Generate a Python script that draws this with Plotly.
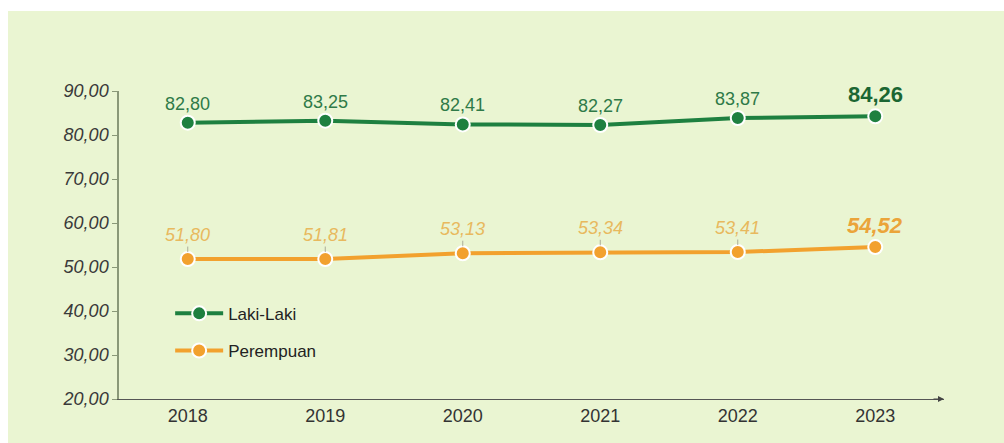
import plotly.graph_objects as go

years = [2018, 2019, 2020, 2021, 2022, 2023]
laki = [82.80, 83.25, 82.41, 82.27, 83.87, 84.26]
perempuan = [51.80, 51.81, 53.13, 53.34, 53.41, 54.52]
laki_labels = ["82,80", "83,25", "82,41", "82,27", "83,87", "84,26"]
perempuan_labels = ["51,80", "51,81", "53,13", "53,34", "53,41", "54,52"]
ytick_vals = [20, 30, 40, 50, 60, 70, 80, 90]
ytick_text = ["20,00", "30,00", "40,00", "50,00", "60,00", "70,00", "80,00", "90,00"]
series_names = ["Laki-Laki", "Perempuan"]

GREEN = "#1E8040"
ORANGE = "#F2A12E"
BG = "#EAF5D2"
FONT = "Liberation Sans, Arial, sans-serif"

fig = go.Figure()
fig.add_trace(go.Scatter(
    x=years, y=laki, name=series_names[0], mode="lines+markers",
    line=dict(color=GREEN, width=4),
    marker=dict(size=14, color=GREEN, line=dict(color="white", width=2)),
    legendgroup="a",
))
fig.add_trace(go.Scatter(
    x=years, y=perempuan, name=series_names[1], mode="lines+markers",
    line=dict(color=ORANGE, width=4),
    marker=dict(size=14, color=ORANGE, line=dict(color="white", width=2)),
    legendgroup="b",
))

annotations = []
n = len(years)
for i, (x, y, t) in enumerate(zip(years, laki, laki_labels)):
    last = i == n - 1
    annotations.append(dict(
        x=x, y=y, text=t, showarrow=False, yshift=22 if last else 19,
        font=dict(family=FONT, size=22 if last else 18,
                  color="#1B6632" if last else "#2F7A48",
                  weight="bold" if last else "normal"),
    ))
for i, (x, y, t) in enumerate(zip(years, perempuan, perempuan_labels)):
    last = i == n - 1
    if last:
        annotations.append(dict(
            x=x, y=y, text=t, showarrow=False, yshift=22,
            font=dict(family=FONT, size=22, color="#EBA43A",
                      weight="bold", style="italic"),
        ))
    else:
        annotations.append(dict(
            x=x, y=y, text=t, showarrow=True, ax=0, ay=-24,
            arrowhead=0, arrowwidth=0.8, arrowcolor="#9A9A8A", standoff=7,
            font=dict(family=FONT, size=18, color="#E8B95E", style="italic"),
        ))
# x-axis arrow head
annotations.append(dict(
    x=2023.5, y=20, xref="x", yref="y", text="", showarrow=True,
    ax=-12, ay=0, arrowhead=2, arrowsize=1, arrowwidth=1.2, arrowcolor="#444444",
))

fig.update_layout(
    width=1004, height=443,
    margin=dict(l=119, r=60, t=91, b=44),
    paper_bgcolor="white",
    plot_bgcolor="rgba(0,0,0,0)",
    font=dict(family=FONT),
    showlegend=True,
    legend=dict(
        x=0.062, y=0.335, xanchor="left", yanchor="top",
        bgcolor="rgba(0,0,0,0)", traceorder="grouped", tracegroupgap=12,
        itemwidth=48,
        font=dict(family=FONT, size=17, color="#222222"),
    ),
    annotations=annotations,
    shapes=[dict(
        type="rect", xref="paper", yref="paper",
        x0=(8 - 119) / 825, x1=(1004 - 119) / 825,
        y0=(399 - 443) / 308, y1=(399 - 11) / 308,
        fillcolor=BG, line=dict(width=0), layer="below",
    )],
    xaxis=dict(
        range=[2017.5, 2023.5], tickvals=years, ticktext=[str(y) for y in years],
        showgrid=False, zeroline=False, showline=True, linecolor="#555555",
        linewidth=1.2, ticks="",
        tickfont=dict(family=FONT, size=18, color="#333333"),
    ),
    yaxis=dict(
        range=[20, 90], tickvals=ytick_vals, ticktext=ytick_text,
        showgrid=False, zeroline=False, showline=True, linecolor="#8A9878",
        linewidth=1.5, ticks="outside", ticklen=5, tickcolor="#8A9878",
        tickfont=dict(family=FONT, size=18, color="#3A3A3A", style="italic"),
    ),
)

fig.write_html("out.html")
